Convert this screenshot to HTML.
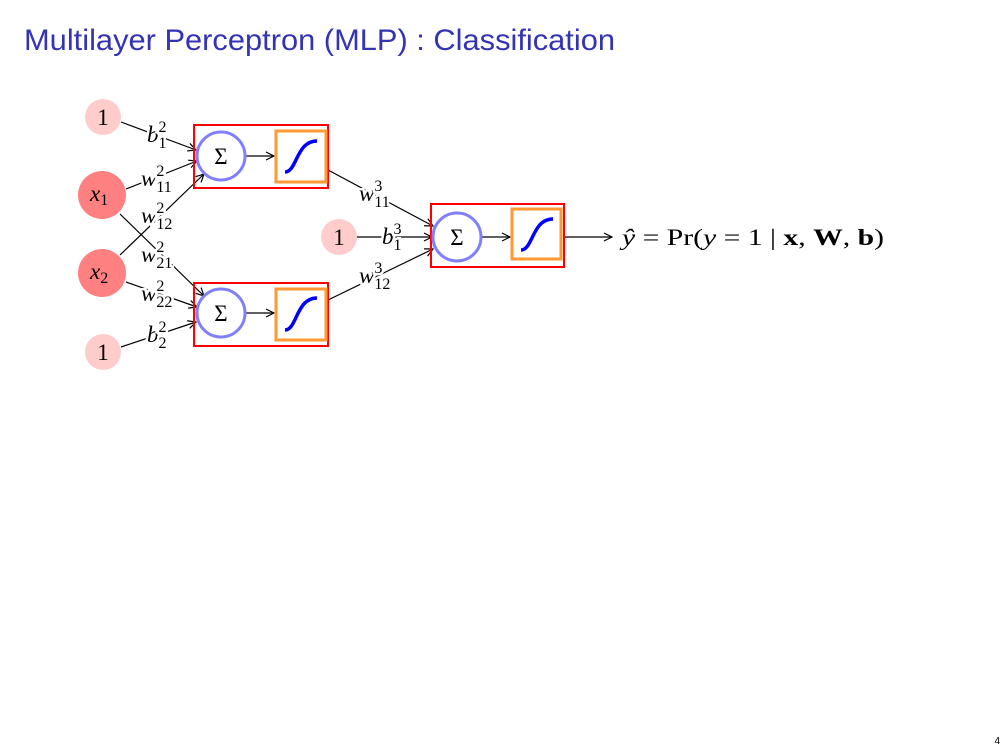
<!DOCTYPE html>
<html><head><meta charset="utf-8"><style>
body{margin:0;background:#fff;}
svg{display:block;}
.lbl{font-family:"Liberation Serif",serif;font-size:23px;fill:#000;paint-order:stroke;stroke:#fff;stroke-width:5px;}
.nl{font-family:"Liberation Serif",serif;font-size:23px;fill:#000;}
.it{font-style:italic;}
.sm{font-size:16px;}
</style></head><body>
<svg width="1008" height="756" viewBox="0 0 1008 756" xmlns="http://www.w3.org/2000/svg">
<defs><marker id="ar" markerWidth="10" markerHeight="10" refX="9" refY="5" orient="auto" markerUnits="userSpaceOnUse"><path d="M1,1 L9,5 L1,9" fill="none" stroke="#000" stroke-width="1.2"/></marker></defs>
<text x="24" y="50" font-family="Liberation Sans, sans-serif" font-size="30" fill="#3333b3" textLength="591" lengthAdjust="spacingAndGlyphs">Multilayer Perceptron (MLP) : Classification</text>
<text x="1000" y="744" font-family="Liberation Sans, sans-serif" font-size="10" fill="#000" text-anchor="end">4</text>

<g stroke="#000" stroke-width="1.2" fill="none">
<line x1="121" y1="122" x2="196" y2="150" marker-end="url(#ar)"/>
<line x1="126" y1="189" x2="197" y2="161" marker-end="url(#ar)"/>
<line x1="120" y1="255" x2="204" y2="174" marker-end="url(#ar)"/>
<line x1="120" y1="214" x2="204" y2="296" marker-end="url(#ar)"/>
<line x1="126" y1="282" x2="197" y2="307" marker-end="url(#ar)"/>
<line x1="121" y1="347" x2="196" y2="322" marker-end="url(#ar)"/>
<line x1="245" y1="156" x2="274" y2="156" marker-end="url(#ar)"/>
<line x1="245" y1="313" x2="274" y2="313" marker-end="url(#ar)"/>
<line x1="328" y1="170" x2="433" y2="226" marker-end="url(#ar)"/>
<line x1="356" y1="237" x2="432" y2="237" marker-end="url(#ar)"/>
<line x1="328" y1="300" x2="433" y2="249" marker-end="url(#ar)"/>
<line x1="481" y1="237" x2="510" y2="237" marker-end="url(#ar)"/>
<line x1="564" y1="237" x2="612" y2="237" marker-end="url(#ar)"/>
</g>

<g>
<circle cx="103" cy="117" r="18" fill="#ffcccc"/>
<circle cx="102" cy="195" r="24" fill="#ff8080"/>
<circle cx="102" cy="273" r="24" fill="#ff8080"/>
<circle cx="103" cy="352" r="18" fill="#ffcccc"/>
<circle cx="339" cy="237" r="18" fill="#ffcccc"/>
<text class="nl" x="103" y="125" text-anchor="middle">1</text>
<text class="nl" x="103" y="360" text-anchor="middle">1</text>
<text class="nl" x="339" y="245" text-anchor="middle">1</text>
<text class="nl" x="90" y="201"><tspan class="it">x</tspan><tspan class="sm" dy="4">1</tspan></text>
<text class="nl" x="90" y="279"><tspan class="it">x</tspan><tspan class="sm" dy="4">2</tspan></text>
</g>

<g>
<rect x="194" y="125" width="134" height="63" fill="none" stroke="#ff0000" stroke-width="2"/>
<rect x="194" y="283" width="134" height="63" fill="none" stroke="#ff0000" stroke-width="2"/>
<rect x="431" y="204" width="133" height="63" fill="none" stroke="#ff0000" stroke-width="2"/>
<circle cx="221" cy="156" r="24" fill="#fff" stroke="#8080ff" stroke-width="3"/>
<circle cx="221" cy="313" r="24" fill="#fff" stroke="#8080ff" stroke-width="3"/>
<circle cx="457" cy="237" r="24" fill="#fff" stroke="#8080ff" stroke-width="3"/>
<text class="nl" x="221" y="164" text-anchor="middle">Σ</text>
<text class="nl" x="221" y="321" text-anchor="middle">Σ</text>
<text class="nl" x="457" y="245" text-anchor="middle">Σ</text>
<rect x="276" y="131" width="50" height="51" fill="#fff" stroke="#ff9933" stroke-width="3"/>
<rect x="276" y="289" width="50" height="51" fill="#fff" stroke="#ff9933" stroke-width="3"/>
<rect x="512" y="209" width="49" height="50" fill="#fff" stroke="#ff9933" stroke-width="3"/>
<g fill="none" stroke="#0000ff" stroke-width="3.5">
<path d="M285,172 C297,172 296,141 317,141"/>
<path d="M285,330 C297,330 296,298 317,298"/>
<path d="M521,250 C533,250 532,219 553,219"/>
</g>
</g>

<g>
<text class="lbl" x="147" y="142"><tspan class="it">b</tspan><tspan class="sm" dy="-10">2</tspan><tspan class="sm" dx="-8" dy="16">1</tspan></text>
<text class="lbl" x="141" y="186"><tspan class="it">w</tspan><tspan class="sm" dy="-10">2</tspan><tspan class="sm" dx="-8" dy="16">11</tspan></text>
<text class="lbl" x="141" y="223"><tspan class="it">w</tspan><tspan class="sm" dy="-10">2</tspan><tspan class="sm" dx="-8" dy="16">12</tspan></text>
<text class="lbl" x="141" y="262"><tspan class="it">w</tspan><tspan class="sm" dy="-10">2</tspan><tspan class="sm" dx="-8" dy="16">21</tspan></text>
<text class="lbl" x="141" y="301"><tspan class="it">w</tspan><tspan class="sm" dy="-10">2</tspan><tspan class="sm" dx="-8" dy="16">22</tspan></text>
<text class="lbl" x="147" y="342"><tspan class="it">b</tspan><tspan class="sm" dy="-10">2</tspan><tspan class="sm" dx="-8" dy="16">2</tspan></text>
<text class="lbl" x="359" y="201"><tspan class="it">w</tspan><tspan class="sm" dy="-10">3</tspan><tspan class="sm" dx="-8" dy="16">11</tspan></text>
<text class="lbl" x="382" y="244"><tspan class="it">b</tspan><tspan class="sm" dy="-10">3</tspan><tspan class="sm" dx="-8" dy="16">1</tspan></text>
<text class="lbl" x="359" y="283"><tspan class="it">w</tspan><tspan class="sm" dy="-10">3</tspan><tspan class="sm" dx="-8" dy="16">12</tspan></text>
</g>

<text class="nl" x="622" y="245" font-size="24" textLength="262" lengthAdjust="spacingAndGlyphs"><tspan class="it">ŷ</tspan> = Pr(<tspan class="it">y</tspan> = 1 | <tspan font-weight="bold">x</tspan>, <tspan font-weight="bold">W</tspan>, <tspan font-weight="bold">b</tspan>)</text>
</svg>
</body></html>
